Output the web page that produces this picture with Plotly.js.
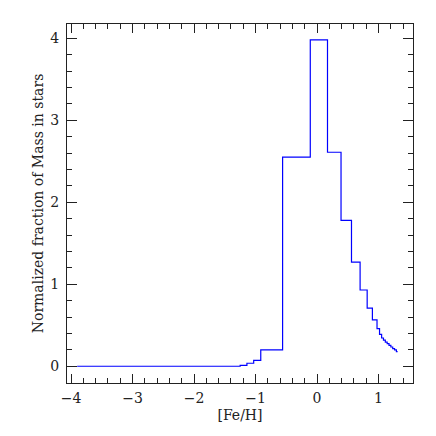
<!DOCTYPE html>
<html>
<head>
<meta charset="utf-8">
<script src="https://cdn.plot.ly/plotly-3.0.1.min.js"></script>
<style>html,body{margin:0;padding:0;background:#fff;}#plot{width:436px;height:436px;}</style>
</head>
<body>
<div id="plot"></div>
<script>
// Bin edges in [Fe/H] and normalized mass fraction per bin
var binEdges = [-3.9, -1.25, -1.14, -1.03, -0.915, -0.56, -0.11, 0.17, 0.39, 0.56, 0.70, 0.815, 0.90, 0.975, 1.016, 1.05, 1.08, 1.11, 1.14, 1.17, 1.20, 1.23, 1.26, 1.29, 1.31];
var binValues = [0.0, 0.012, 0.037, 0.073, 0.2, 2.55, 3.98, 2.61, 1.78, 1.27, 0.93, 0.71, 0.565, 0.46, 0.39, 0.345, 0.32, 0.295, 0.275, 0.255, 0.235, 0.215, 0.2, 0.178];
var xTickVals = [-4, -3, -2, -1, 0, 1];
var xTickText = ['\u22124', '\u22123', '\u22122', '\u22121', '0', '1'];
var yTickVals = [0, 1, 2, 3, 4];

var yStep = binValues.concat([binValues[binValues.length - 1]]);

var fontFam = 'DejaVu Serif, Liberation Serif, serif';
var trace = {
  x: binEdges,
  y: yStep,
  mode: 'lines',
  line: {shape: 'hv', color: '#0000ff', width: 1.2},
  hoverinfo: 'skip'
};

var layout = {
  width: 436, height: 436,
  margin: {l: 67, r: 23, t: 24, b: 53},
  paper_bgcolor: '#fff', plot_bgcolor: '#fff',
  showlegend: false,
  font: {family: fontFam, color: '#222', size: 14},
  xaxis: {
    range: [-4.065, 1.56],
    tickvals: xTickVals, ticktext: xTickText,
    ticks: 'inside', ticklen: 9, tickwidth: 1, tickcolor: '#222',
    minor: {dtick: 0.2, ticks: 'inside', ticklen: 5, tickwidth: 1, tickcolor: '#222'},
    showline: true, linecolor: '#222', linewidth: 1, mirror: 'ticks',
    showgrid: false, zeroline: false,
    ticklabelstandoff: 2,
    tickfont: {family: fontFam, size: 14, color: '#222'},
    title: {text: '[Fe/H]', font: {family: fontFam, size: 14, color: '#222'}, standoff: 5}
  },
  yaxis: {
    range: [-0.204, 4.174],
    tickvals: yTickVals,
    ticks: 'inside', ticklen: 10, tickwidth: 1, tickcolor: '#222',
    minor: {dtick: 0.2, ticks: 'inside', ticklen: 5, tickwidth: 1, tickcolor: '#222'},
    showline: true, linecolor: '#222', linewidth: 1, mirror: 'ticks',
    showgrid: false, zeroline: false,
    ticklabelstandoff: 4,
    tickfont: {family: fontFam, size: 14, color: '#222'},
    title: {text: 'Normalized fraction of Mass in stars', font: {family: fontFam, size: 14, color: '#222'}, standoff: 3}
  }
};

Plotly.newPlot('plot', [trace], layout, {displayModeBar: false, staticPlot: true});
</script>
</body>
</html>
